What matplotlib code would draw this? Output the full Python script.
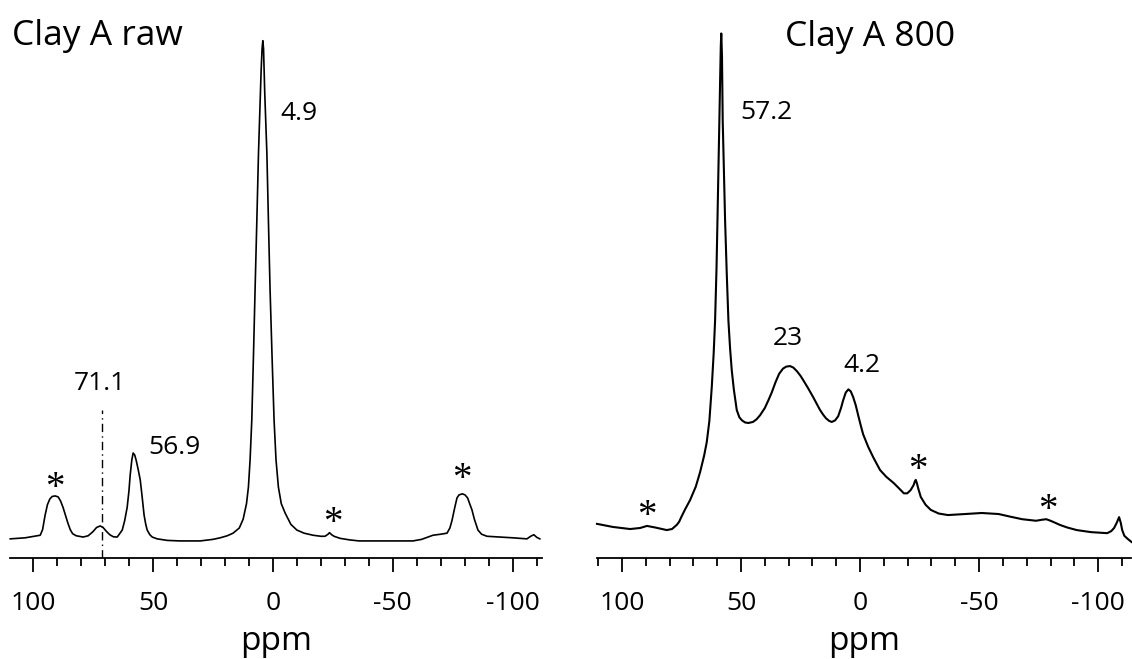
import matplotlib
matplotlib.use('Agg')
import matplotlib.pyplot as plt
from matplotlib.ticker import MultipleLocator

plt.rcParams['font.family'] = ['Open Sans', 'DejaVu Sans']
plt.rcParams['axes.unicode_minus'] = False

# spectra: chemical shift (ppm) and intensity (tallest peak ~100)
raw_ppm = [109.5, 103.3, 97.0, 96.0, 95.0, 94.0, 93.0, 92.0, 90.75, 89.5, 88.5, 87.5,
           86.5, 85.5, 84.5, 83.5, 82.0, 79.1, 77.0, 75.0, 73.5, 72.0, 70.8, 69.5,
           68.0, 66.5, 64.9, 62.8, 61.8, 60.75, 60.0, 59.5, 58.8, 58.25, 57.6, 57.0,
           56.2, 55.3, 54.5, 53.7, 53.0, 52.4, 51.3, 50.3, 48.25, 44.0, 38.7, 30.3,
           25.0, 22.0, 19.0, 16.6, 14.0, 12.4, 11.0, 10.2, 9.5, 8.8, 8.1, 7.4,
           6.7, 6.0, 5.4, 4.9, 4.5, 4.2, 3.9, 3.4, 2.5, 1.85, 1.2, 0.35,
           -0.5, -1.3, -2.3, -3.5, -5.1, -7.5, -10.0, -13.0, -16.75, -20.0, -21.75, -23.0,
           -23.6, -24.5, -25.5, -28.0, -32.0, -35.9, -58.4, -62.0, -66.75, -70.0, -72.6, -73.8,
           -74.7, -75.8, -76.75, -77.6, -79.0, -80.1, -81.2, -82.2, -83.0, -84.0, -85.5, -87.0,
           -89.25, -100.1, -105.9, -107.5, -108.8, -110.0, -111.3]
raw_int = [3.7, 3.9, 4.4, 5.5, 8.2, 10.3, 11.4, 11.9, 12.0, 11.8, 11.0, 9.8,
           8.3, 6.8, 5.5, 4.7, 4.3, 4.05, 4.3, 5.1, 5.9, 6.2, 5.9, 5.2,
           4.5, 4.1, 4.05, 5.4, 7.2, 9.8, 13.0, 16.0, 19.0, 20.3, 19.9, 18.9,
           17.2, 15.1, 11.8, 8.3, 6.5, 5.4, 4.5, 4.05, 3.7, 3.4, 3.3, 3.3,
           3.6, 3.9, 4.3, 4.8, 5.8, 7.5, 10.5, 13.7, 19.0, 26.6, 39.0, 52.3,
           65.0, 78.2, 87.0, 94.2, 98.5, 100.0, 98.5, 90.0, 78.2, 65.0, 52.3, 39.0,
           26.6, 19.0, 13.7, 10.5, 8.7, 6.5, 5.4, 4.8, 4.4, 4.2, 4.2, 4.6,
           4.9, 4.5, 4.2, 3.8, 3.5, 3.3, 3.3, 3.6, 4.4, 4.6, 4.8, 5.8,
           7.3, 9.7, 11.6, 12.2, 12.4, 12.2, 11.6, 10.3, 9.3, 7.5, 5.4, 4.6,
           4.2, 3.9, 3.7, 4.2, 4.5, 4.0, 3.7]

c800_ppm = [110.5, 103.8, 96.6, 92.4, 89.5, 86.1, 81.2, 79.0, 77.0, 76.0, 75.0, 73.5,
            71.4, 69.0, 67.2, 65.5, 64.4, 63.3, 62.3, 61.5, 60.9, 60.3, 59.9, 59.5,
            59.1, 58.8, 58.5, 58.3, 58.0, 57.7, 57.2, 56.7, 56.0, 55.3, 54.6, 53.9,
            53.0, 51.8, 50.7, 49.6, 48.3, 46.9, 45.0, 43.5, 42.0, 40.0, 38.5, 37.1,
            35.5, 34.0, 32.4, 31.0, 29.4, 28.0, 26.5, 25.0, 23.9, 21.8, 19.7, 18.2,
            16.8, 15.5, 14.3, 13.0, 11.9, 10.5, 9.2, 8.0, 7.1, 6.0, 4.9, 3.9,
            2.9, 1.8, 0.8, -0.3, -1.3, -3.4, -5.5, -7.0, -8.4, -11.0, -14.1, -16.5,
            -18.4, -19.8, -21.2, -22.5, -23.0, -23.4, -23.9, -24.4, -25.5, -27.5, -29.7, -33.0,
            -36.9, -44.1, -51.1, -58.2, -63.0, -68.1, -73.9, -76.5, -78.2, -80.0, -82.0, -83.9,
            -87.0, -91.0, -97.0, -103.8, -105.5, -106.7, -107.8, -108.8, -109.5, -110.1, -111.0, -112.4,
            -114.0]
c800_int = [6.6, 6.0, 5.6, 5.8, 6.2, 5.9, 5.4, 5.6, 6.4, 7.0, 8.0, 9.4,
            11.2, 13.8, 16.6, 19.8, 22.4, 26.5, 33.0, 39.5, 45.9, 56.0, 65.3, 75.0,
            84.6, 92.0, 99.0, 101.4, 97.0, 84.6, 75.0, 65.3, 55.0, 45.9, 40.5, 36.3,
            32.5, 28.6, 27.2, 26.6, 26.2, 26.1, 26.3, 26.8, 27.6, 29.0, 30.5, 32.0,
            34.0, 35.6, 36.6, 37.0, 37.1, 36.8, 36.1, 35.2, 34.4, 32.8, 31.1, 29.8,
            28.6, 27.7, 27.0, 26.5, 26.3, 26.6, 27.4, 29.0, 30.5, 32.0, 32.6, 32.2,
            31.1, 29.5, 27.6, 25.6, 23.9, 21.5, 19.5, 18.2, 17.0, 15.7, 14.5, 13.4,
            12.5, 12.5, 13.1, 14.1, 14.8, 15.1, 14.4, 13.5, 11.8, 10.3, 9.3, 8.6,
            8.3, 8.5, 8.7, 8.5, 8.0, 7.5, 7.2, 7.4, 7.5, 7.2, 6.8, 6.4,
            5.9, 5.4, 5.0, 4.8, 5.2, 5.8, 6.8, 7.9, 6.8, 5.4, 4.3, 3.7,
            3.1]

# peak labels (text, ppm, intensity)
raw_labels = [('4.9', -10.9, 85.9), ('56.9', 41.2, 21.4), ('71.1', 72.0, 33.8)]
c800_labels = [('57.2', 39.5, 86.1), ('23', 30.3, 42.5), ('4.2', -0.8, 37.3)]

# spinning sidebands marked with *
raw_stars = [(90.75, 15.1), (-25.1, 8.3), (-78.8, 16.8)]
c800_stars = [(89.5, 9.7), (-24.4, 18.5), (-79.0, 10.8)]

marker_ppm = 71.1
marker_top = 28.6


def draw_panel(ax, ppm, inten, xlim, lw, labels, stars):
    ax.plot(ppm, inten, color='black', lw=lw, clip_on=False, solid_joinstyle='round')
    ax.set_xlim(*xlim)
    ax.set_ylim(0, 104)
    for s in ['left', 'right', 'top']:
        ax.spines[s].set_visible(False)
    ax.spines['bottom'].set_linewidth(1.3)
    ax.set_yticks([])
    ax.xaxis.set_major_locator(MultipleLocator(50))
    ax.xaxis.set_minor_locator(MultipleLocator(10))
    ax.tick_params(axis='x', which='major', direction='out', length=10, width=1.3,
                   labelsize=19, pad=14)
    ax.tick_params(axis='x', which='minor', direction='out', length=6, width=1.3)
    ax.set_xlabel('ppm', fontsize=24, labelpad=6)
    ax.patch.set_visible(False)

    for txt, x, y in labels:
        ax.text(x, y, txt, fontsize=19, ha='center', va='center')
    for x, y in stars:
        ax.annotate('*', (x, y), xytext=(0, -13), textcoords='offset points',
                    fontsize=28, family='Liberation Serif', ha='center', va='baseline')


fig = plt.figure(figsize=(11.32, 6.59), dpi=100)

ax1 = fig.add_axes([10 / 1132, 101 / 659, 532 / 1132, 538 / 659])
draw_panel(ax1, raw_ppm, raw_int, (109.6, -112.2), 1.2, raw_labels, raw_stars)
ax1.plot([marker_ppm, marker_ppm], [0, marker_top], color='black', lw=1,
         linestyle=(0, (6, 3, 1, 3)))

ax2 = fig.add_axes([597 / 1132, 101 / 659, 534 / 1132, 538 / 659])
draw_panel(ax2, c800_ppm, c800_int, (110.5, -113.8), 1.5, c800_labels, c800_stars)

fig.text(12 / 1132, 1 - 36 / 659, 'Clay A raw', fontsize=25.5, va='center', ha='left')
fig.text(785 / 1132, 1 - 37 / 659, 'Clay A 800', fontsize=25.5, va='center', ha='left')

fig.savefig('out.png', dpi=100)
plt.close()
